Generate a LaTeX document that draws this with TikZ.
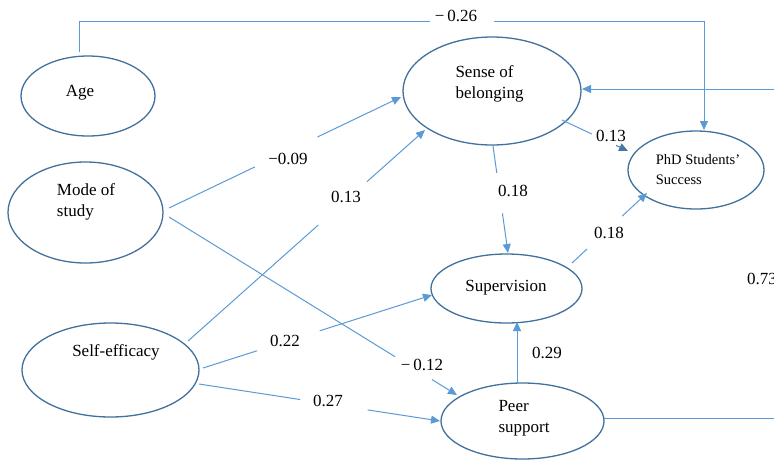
\documentclass[tikz,border=0pt]{standalone}
\usepackage{fontspec}
\setmainfont{Liberation Serif}
\usetikzlibrary{shapes.geometric,arrows.meta,calc}
\definecolor{ellc}{RGB}{65,113,156}
\definecolor{linec}{RGB}{91,155,213}
\begin{document}
\begin{tikzpicture}[x=1pt,y=-1pt,
  ell/.style={draw=ellc,line width=1.3pt,ellipse,inner sep=0pt},
  txt/.style={font=\fontsize{17}{21}\selectfont,align=left,inner sep=0pt},
  small/.style={font=\fontsize{14.5}{20}\selectfont,align=left,inner sep=0pt},
  lab/.style={font=\fontsize{17}{21}\selectfont,inner sep=0pt},
  conn/.style={draw=linec,line width=1pt},
  arr/.style={conn,-{Triangle[length=9pt,width=8pt]}}]
\useasboundingbox (0,0) rectangle (774,459);
\clip (0,0) rectangle (774,459);
\fill[white] (0,0) rectangle (774,459);
% ellipses
\node[ell,minimum width=134pt,minimum height=80pt] (age) at (88,96) {};
\node[ell,minimum width=178pt,minimum height=108pt] (sense) at (492,91) {};
\node[ell,minimum width=136pt,minimum height=78pt] (phd) at (696,170) {};
\node[ell,minimum width=155pt,minimum height=101pt] (mode) at (85.5,212.5) {};
\node[ell,minimum width=177pt,minimum height=94pt] (self) at (110.5,370) {};
\node[ell,minimum width=151pt,minimum height=69pt] (sup) at (506.5,288.5) {};
\node[ell,minimum width=163pt,minimum height=76pt] (peer) at (522.5,421) {};
% texts
\node[txt] (tage) at (80,93) {Age};
\node[txt] (tsense) at (489.5,84) {Sense of\\belonging};
\node[small] (tphd) at (698,170) {PhD Students'\\Success};
\node[txt] (tmode) at (86,202) {Mode of\\study};
\node[txt] (tself) at (116,352) {Self-efficacy};
\node[txt] (tsup) at (506,288) {Supervision};
\node[txt] (tpeer) at (524,418.5) {Peer\\support};
% free ends at the right edge
\coordinate (rin) at (774,89);
\coordinate (rout) at (774,418);
% Age -> PhD (top bracket)
\coordinate (a1) at ($(age.center)+(-9,-44)$);
\coordinate (a2) at (79,21);
\coordinate (a3) at (704,21);
\draw[conn] (a1) -- (a2) -- (430,21);
\draw[arr] (494,21) -- (a3) -- ($(phd.center)+(8,-40)$);
\node[lab] (l026) at (456,16) {−\,0.26};
% Mode -> Sense
\coordinate (m1a) at ($(mode.center)+(83.5,-4.5)$);
\coordinate (m1b) at ($(sense.center)+(-91,6)$);
\draw[conn] (m1a) -- ($(m1a)!0.37!(m1b)$);
\draw[arr] ($(m1a)!0.64!(m1b)$) -- (m1b);
\node[lab] (l009) at (288,159) {−0.09};
% Self -> Sense
\coordinate (s1a) at ($(self.center)+(77.5,-29)$);
\coordinate (s1b) at ($(sense.center)+(-67,39)$);
\draw[conn] (s1a) -- ($(s1a)!0.55!(s1b)$);
\draw[arr] ($(s1a)!0.755!(s1b)$) -- (s1b);
\node[lab] (l013a) at (346,197) {0.13};
% Sense -> PhD
\coordinate (sp1) at ($(sense.center)+(70,29)$);
\coordinate (sp2) at ($(phd.center)+(-68,-19)$);
\draw[conn] (sp1) -- ($(sp1)!0.45!(sp2)$);
\draw[arr,draw=ellc!80!linec] ($(sp1)!0.82!(sp2)$) -- (sp2);
\node[lab] (l013b) at (611,136) {0.13};
% Sense -> Supervision
\coordinate (ss1) at ($(sense.center)+(1,55)$);
\coordinate (ss2) at ($(sup.center)+(1.5,-35.5)$);
\draw[conn] (ss1) -- ($(ss1)!0.25!(ss2)$);
\draw[arr] ($(ss1)!0.63!(ss2)$) -- (ss2);
\node[lab] (l018a) at (513,191) {0.18};
% Supervision -> PhD
\coordinate (up1) at ($(sup.center)+(65.5,-25.5)$);
\coordinate (up2) at ($(phd.center)+(-49,23)$);
\draw[conn] (up1) -- ($(up1)!0.2!(up2)$);
\draw[arr] ($(up1)!0.67!(up2)$) -- (up2);
\node[lab] (l018b) at (609,233) {0.18};
% Self -> Supervision
\coordinate (su1) at ($(self.center)+(92.5,-2)$);
\coordinate (su2) at ($(sup.center)+(-74.5,6.5)$);
\draw[conn] (su1) -- ($(su1)!0.236!(su2)$);
\draw[arr] ($(su1)!0.51!(su2)$) -- (su2);
\node[lab] (l022) at (285,341) {0.22};
% Mode -> Peer
\coordinate (mp1) at ($(mode.center)+(83.5,4.5)$);
\coordinate (mp2) at ($(peer.center)+(-65.5,-26)$);
\draw[conn] (mp1) -- ($(mp1)!0.785!(mp2)$);
\draw[arr] ($(mp1)!0.913!(mp2)$) -- (mp2);
\node[lab] (l012) at (422,365) {−\,0.12};
% Self -> Peer
\coordinate (sq1) at ($(self.center)+(88.5,14)$);
\coordinate (sq2) at ($(peer.center)+(-82.5,0)$);
\draw[conn] (sq1) -- ($(sq1)!0.42!(sq2)$);
\draw[arr] ($(sq1)!0.70!(sq2)$) -- (sq2);
\node[lab] (l027) at (328,401) {0.27};
% Peer -> Supervision
\draw[arr] ($(peer.center)+(-5.5,-38)$) -- ($(sup.center)+(10.5,33.5)$);
\node[lab] (l029) at (547,353) {0.29};
% right side connectors
\draw[arr] (rin) -- ($(sense.center)+(90,-2)$);
\draw[conn] ($(peer.center)+(81.5,-3)$) -- (rout);
\node[lab,anchor=west] (l073) at (747,279) {0.73};
\end{tikzpicture}
\end{document}
